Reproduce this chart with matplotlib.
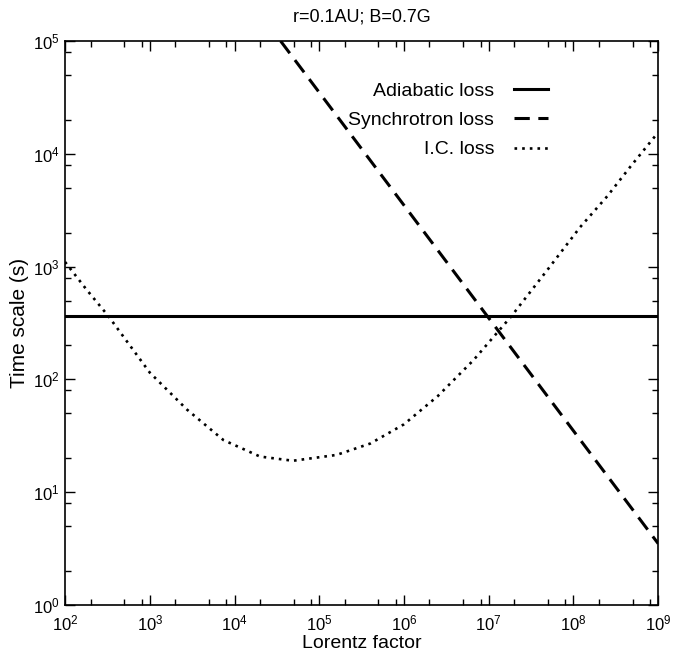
import matplotlib
matplotlib.use("Agg")
import matplotlib.pyplot as plt
from matplotlib.ticker import LogLocator, NullFormatter

plt.rcParams['font.family'] = ['Liberation Sans', 'DejaVu Sans']
plt.rcParams['mathtext.fontset'] = 'custom'
plt.rcParams['mathtext.rm'] = 'Liberation Sans'

# Adiabatic loss (flat)
gamma_ad = [1e2, 1e9]
t_ad = [365, 365]

# Synchrotron loss
gamma_syn = [3.5e4, 1e9]
t_syn = [1e5, 3.5]

# Inverse Compton loss
gamma_ic = [1e2, 1.78e2, 3.24e2, 1e3, 2.75e3, 7.4e3, 2e4, 4.9e4, 1.6e5, 4e5,
            1e6, 2.5e6, 6.6e6, 1.86e7, 4.9e7, 1.2e8, 2.5e8, 4.7e8, 1e9]
t_ic = [1100, 630, 365, 115, 54, 29, 20.7, 19, 21.4, 27,
        40, 71, 148, 365, 930, 2240, 4200, 7700, 15500]

fig = plt.figure(figsize=(6.94, 6.66), dpi=100)
ax = fig.add_axes([0.0937, 0.0916, 0.8547, 0.8468])

ax.plot(gamma_ad, t_ad, color='black', lw=2.2, label="Adiabatic loss")
ax.plot(gamma_syn, t_syn, color='black', lw=2.2, dashes=(5, 2.8), label="Synchrotron loss")
ax.plot(gamma_ic, t_ic, color='black', lw=1.9, dashes=(1, 1.9), label="I.C. loss")

ax.set_xscale('log')
ax.set_yscale('log')
ax.set_xlim(1e2, 1e9)
ax.set_ylim(1e0, 1e5)

for axis in (ax.xaxis, ax.yaxis):
    axis.set_major_locator(LogLocator(base=10, numticks=20))
    axis.set_minor_locator(LogLocator(base=10, subs=(2, 5, 8), numticks=20))
    axis.set_minor_formatter(NullFormatter())

ax.tick_params(which='both', direction='in', top=True, right=True)
ax.tick_params(which='major', length=7, width=1, labelsize=12)
ax.tick_params(axis='x', which='major', pad=6)
ax.tick_params(axis='y', which='major', pad=4)
ax.tick_params(which='minor', length=4, width=1)
for s in ax.spines.values():
    s.set_linewidth(1.2)

ax.set_title("r=0.1AU; B=0.7G", fontsize=13, pad=14)
ax.set_xlabel("Lorentz factor", fontsize=14, labelpad=1)
ax.set_ylabel("Time scale (s)", fontsize=15, labelpad=3)

ax.legend(loc='upper right', bbox_to_anchor=(0.843, 0.958), frameon=False,
          markerfirst=False, fontsize=14, handlelength=1.75, labelspacing=0.6,
          handletextpad=1.0)

fig.savefig("out.png", dpi=100)
